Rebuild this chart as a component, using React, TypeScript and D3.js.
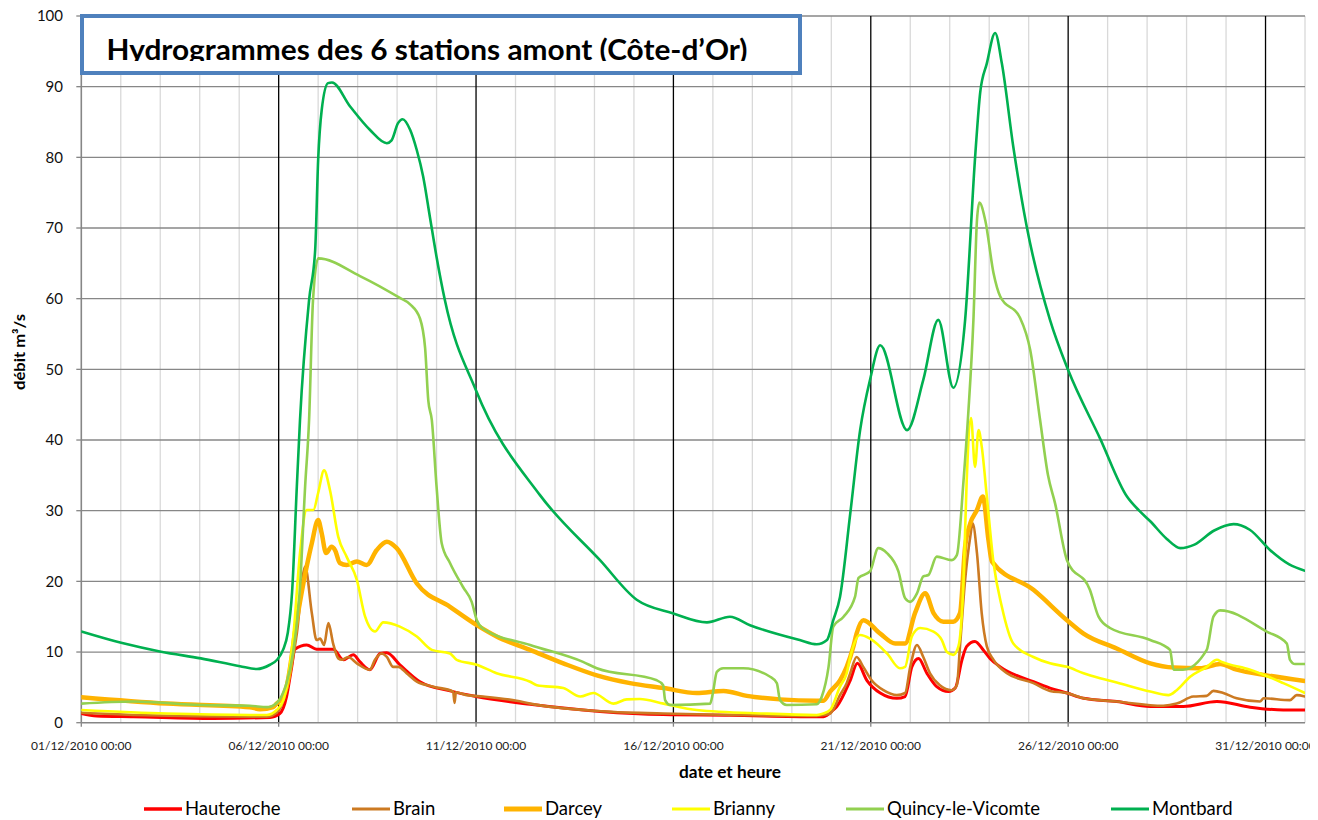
import React from "react";
import * as d3 from "d3";

// time in days since 01/12/2010 00:00, discharge in m3/s
const hauteroche: [number, number][] = [
  [0, 1.3], [0.39, 0.95], [1.32, 0.85], [3.34, 0.6], [4.78, 0.75], [5.03, 1.3], [5.2, 3.7], [5.33, 7.9], [5.41, 10.4],
  [5.71, 11.0], [5.96, 10.4], [6.38, 10.4], [6.64, 8.9], [6.89, 9.6], [7.06, 8.6], [7.31, 7.5], [7.57, 9.8], [7.74, 9.9],
  [8.07, 8.2], [8.58, 5.8], [9.34, 4.5], [10.0, 3.7], [11.37, 2.6], [13.14, 1.6], [14.74, 1.15], [16.43, 1.05],
  [18.63, 0.85], [18.8, 0.85], [19.05, 1.8], [19.14, 2.3], [19.48, 6.0], [19.66, 8.4], [19.9, 6.0], [20.24, 4.2],
  [20.66, 3.45], [20.87, 3.7], [21.04, 7.9], [21.21, 9.1], [21.42, 7.0], [21.67, 5.1], [21.97, 4.4], [22.14, 4.9],
  [22.31, 8.9], [22.43, 10.8], [22.64, 11.5], [22.85, 10.3], [23.02, 9.1], [23.28, 7.9], [24.12, 5.8], [24.54, 4.9],
  [24.97, 4.2], [25.39, 3.45], [26.23, 3.0], [27.08, 2.3], [27.92, 2.3], [28.77, 3.0], [29.61, 2.2], [30.45, 1.8], [31, 1.8],
];

const brain: [number, number][] = [
  [0, 1.4], [1.31, 1.1], [4.7, 0.85], [4.95, 1.4], [5.2, 4.6], [5.46, 12.6], [5.67, 22.1], [5.84, 15.5], [5.96, 11.7],
  [6.05, 11.9], [6.15, 11.0], [6.26, 14.1], [6.38, 11.2], [6.51, 9.1], [6.6, 8.9], [6.76, 9.3], [6.98, 8.4], [7.31, 7.5],
  [7.44, 8.9], [7.61, 9.8], [7.74, 9.3], [7.9, 7.9], [8.03, 7.9], [8.24, 7.0], [8.5, 5.8], [8.92, 5.1], [9.42, 4.4],
  [9.455, 2.8], [9.49, 4.3], [9.76, 3.9], [10.18, 3.7], [11.03, 3.1], [11.37, 2.7], [13.06, 1.65], [14.75, 1.3],
  [16.43, 1.1], [18.63, 0.95], [18.8, 1.1], [18.97, 1.3], [19.22, 3.9], [19.39, 5.6], [19.48, 7.0], [19.64, 9.3],
  [19.81, 7.9], [20.02, 6.0], [20.32, 4.6], [20.66, 3.9], [20.87, 4.2], [21.0, 7.9], [21.17, 11.0], [21.33, 9.3],
  [21.5, 7.0], [21.75, 5.3], [22.05, 4.6], [22.18, 5.3], [22.26, 10.8], [22.39, 20.2], [22.52, 26.3], [22.58, 28.2],
  [22.69, 24.0], [22.81, 15.5], [22.94, 10.8], [23.11, 8.9], [23.45, 7.0], [24.12, 5.6], [24.54, 4.5], [24.97, 4.2],
  [25.39, 3.45], [26.23, 3.0], [27.41, 2.4], [27.75, 2.7], [28.17, 3.7], [28.51, 3.8], [28.68, 4.5], [28.93, 4.2],
  [29.27, 3.45], [29.86, 3.0], [29.95, 3.45], [30.62, 3.2], [30.79, 3.9], [31, 3.7],
];

const darcey: [number, number][] = [
  [0, 3.6], [2.16, 2.7], [4.27, 2.2], [4.53, 1.9], [4.86, 2.2], [4.95, 2.7], [5.11, 3.7], [5.2, 5.1], [5.46, 14.5],
  [5.71, 22.1], [5.84, 25.4], [6.0, 28.7], [6.09, 26.8], [6.2, 24.0], [6.34, 24.9], [6.43, 24.4], [6.55, 22.6],
  [6.72, 22.3], [6.98, 22.8], [7.23, 22.3], [7.48, 24.4], [7.74, 25.6], [7.99, 24.7], [8.5, 19.7], [9.34, 16.4],
  [10.02, 13.8], [10.52, 12.2], [11.37, 10.3], [12.21, 8.4], [13.06, 6.7], [13.9, 5.6], [14.75, 4.9], [15.59, 4.2],
  [16.27, 4.5], [16.86, 3.8], [17.7, 3.3], [18.63, 3.1], [18.8, 3.1], [18.97, 4.4], [19.22, 6.0], [19.39, 7.9],
  [19.56, 10.8], [19.64, 12.6], [19.81, 14.5], [20.24, 12.6], [20.62, 11.2], [20.87, 11.2], [21.12, 15.5],
  [21.38, 18.3], [21.59, 15.5], [21.84, 14.3], [22.09, 14.3], [22.26, 15.5], [22.39, 24.9], [22.52, 28.2],
  [22.69, 30.1], [22.84, 32.0], [22.98, 25.9], [23.07, 22.8], [24.12, 18.8], [24.97, 14.5], [25.39, 12.6],
  [26.23, 10.5], [27.08, 8.4], [27.67, 7.8], [28.34, 7.7], [28.85, 8.3], [29.27, 7.5], [30.03, 6.7], [31, 5.9],
];

const brianny: [number, number][] = [
  [0, 1.8], [2.16, 1.3], [4.27, 1.1], [4.7, 1.1], [4.95, 1.8], [5.12, 3.2], [5.2, 5.1], [5.37, 12.2], [5.54, 24.0],
  [5.71, 30.1], [5.88, 30.1], [6.0, 32.5], [6.15, 35.7], [6.3, 32.9], [6.51, 26.3], [6.72, 23.5], [6.98, 20.2],
  [7.19, 15.0], [7.44, 12.9], [7.65, 14.2], [8.07, 13.6], [8.5, 12.2], [8.88, 10.3], [9.34, 9.8], [9.51, 8.9],
  [10.02, 8.2], [10.52, 7.0], [11.37, 5.8], [11.54, 5.3], [12.21, 4.9], [12.64, 3.7], [12.97, 4.2], [13.48, 2.7],
  [13.82, 3.3], [14.15, 3.35], [14.75, 2.7], [15.59, 1.8], [17.28, 1.3], [18.63, 1.1], [18.8, 1.3], [18.97, 1.8],
  [19.22, 5.1], [19.39, 7.0], [19.48, 9.3], [19.73, 12.4], [19.98, 11.9], [20.41, 9.8], [20.74, 7.7], [20.87, 7.9],
  [21.04, 12.2], [21.25, 13.4], [21.59, 12.9], [21.8, 11.7], [21.93, 10.0], [22.09, 9.6], [22.22, 10.8], [22.35, 20.2],
  [22.43, 34.3], [22.54, 43.1], [22.64, 36.2], [22.73, 41.4], [22.81, 39.1], [22.94, 32.0], [23.11, 22.6],
  [23.32, 16.4], [23.61, 11.2], [24.12, 9.3], [24.54, 8.4], [24.97, 7.9], [25.39, 7.0], [25.81, 6.3], [26.23, 5.7],
  [27.08, 4.4], [27.54, 3.9], [27.75, 4.6], [28.09, 6.5], [28.51, 7.9], [28.77, 8.9], [28.89, 8.6], [29.61, 7.5],
  [30.45, 5.6], [31, 4.2],
];

const quincy: [number, number][] = [
  [0, 2.7], [1.31, 3.0], [3.01, 2.5], [4.27, 2.4], [4.7, 2.2], [4.95, 2.8], [5.11, 4.2], [5.2, 5.6], [5.36, 9.8],
  [5.54, 19.2], [5.67, 33.4], [5.77, 42.8], [5.87, 59.8], [6.0, 65.7], [7.06, 63.2], [8.07, 60.1], [8.33, 59.2],
  [8.58, 57.2], [8.71, 53.0], [8.79, 45.6], [8.88, 42.8], [9.0, 33.4], [9.13, 25.4], [9.34, 22.6], [9.67, 19.2],
  [9.89, 17.1], [10.02, 14.5], [10.18, 13.3], [11.37, 11.0], [12.71, 8.6], [13.06, 7.7], [14.58, 6.0], [14.74, 5.3],
  [14.79, 3.2], [14.92, 2.5], [15.93, 2.7], [16.0, 4.2], [16.1, 7.2], [16.26, 7.7], [16.77, 7.7], [17.45, 6.5],
  [17.62, 5.6], [17.7, 3.2], [17.87, 2.5], [18.63, 2.6], [18.76, 3.7], [18.93, 7.9], [19.05, 13.6], [19.31, 15.0],
  [19.6, 17.8], [19.69, 20.5], [19.98, 21.4], [20.19, 24.7], [20.41, 24.0], [20.7, 21.4], [20.87, 17.6], [21.0, 17.1],
  [21.17, 18.3], [21.33, 20.7], [21.46, 20.9], [21.67, 23.5], [22.05, 23.0], [22.18, 23.7], [22.35, 34.3],
  [22.47, 43.8], [22.6, 57.0], [22.69, 71.1], [22.75, 73.6], [22.9, 71.1], [23.11, 63.6], [23.28, 60.3],
  [23.78, 57.3], [24.04, 52.7], [24.29, 42.8], [24.49, 35.0], [24.67, 31.0], [24.97, 23.0], [25.55, 18.8],
  [25.77, 15.0], [26.06, 13.4], [27.08, 11.7], [27.58, 10.3], [27.67, 7.5], [27.91, 7.5], [28.51, 10.3],
  [28.68, 15.0], [28.85, 15.9], [30.03, 12.9], [30.54, 11.2], [30.62, 8.9], [30.75, 8.3], [31, 8.3],
];

const montbard: [number, number][] = [
  [0, 12.9], [1.01, 11.3], [2.02, 10.05], [3.03, 9.1], [4.02, 8.0], [4.45, 7.6], [4.78, 8.2], [4.96, 8.9],
  [5.11, 10.3], [5.23, 12.7], [5.34, 18.5], [5.46, 33.4], [5.54, 42.8], [5.77, 59.8], [5.925, 66.9], [6.0, 79.6],
  [6.09, 86.7], [6.25, 90.5], [6.35, 90.6], [6.81, 87.2], [7.31, 83.9], [7.74, 82.0], [7.86, 82.4], [8.02, 84.8],
  [8.14, 85.4], [8.33, 83.9], [8.5, 81.0], [8.66, 77.3], [8.83, 71.6], [9.0, 65.9], [9.21, 59.8], [10.0, 47.0],
  [11.62, 32.2], [13.14, 23.0], [14.07, 17.4], [14.98, 15.5], [15.85, 14.2], [16.43, 15.0], [16.94, 13.8],
  [18.2, 11.7], [18.63, 11.1], [18.89, 11.7], [19.05, 14.5], [19.22, 17.8], [19.48, 29.6], [19.73, 41.4],
  [19.98, 48.5], [20.24, 53.4], [20.92, 41.4], [21.33, 48.5], [21.71, 57.0], [22.09, 47.4], [22.39, 57.0],
  [22.65, 80.6], [22.77, 89.1], [22.94, 93.3], [23.15, 97.6], [23.32, 93.3], [23.61, 81.5], [23.95, 70.2],
  [24.54, 57.0], [25.0, 49.9], [25.81, 40.2], [26.49, 32.0], [26.8, 30.0], [27.08, 28.5],
  [27.5, 26.0], [27.84, 24.7], [28.2, 25.2], [28.7, 27.2], [29.19, 28.1], [29.6, 27.3], [30.12, 24.4], [30.6, 22.4],
  [31, 21.5],
];

const seriesNames = ["Hauteroche", "Brain", "Darcey", "Brianny", "Quincy-le-Vicomte", "Montbard"];
const seriesData = [hauteroche, brain, darcey, brianny, quincy, montbard];
const seriesColors = ["#FF0000", "#CC7A22", "#FFB300", "#FFFF00", "#92D050", "#00B050"];
const seriesWidths = [3, 2.6, 4.5, 2.6, 2.6, 2.6];

const yTicks = [0, 10, 20, 30, 40, 50, 60, 70, 80, 90, 100];
const xTickDays = [0, 5, 10, 15, 20, 25, 30];
const xTickLabels = [
  "01/12/2010 00:00", "06/12/2010 00:00", "11/12/2010 00:00", "16/12/2010 00:00",
  "21/12/2010 00:00", "26/12/2010 00:00", "31/12/2010 00:00",
];
const titleText = "Hydrogrammes des 6 stations amont (Côte-d’Or)";

const legendX = [144, 352, 504, 672, 846, 1111];

export default function App() {
  const W = 1318, H = 820;
  const left = 81.3, right = 1305, top = 16, bottom = 722.7;
  const x = d3.scaleLinear().domain([0, 31]).range([left, right]);
  const y = d3.scaleLinear().domain([0, 100]).range([bottom, top]);
  const line = d3.line<[number, number]>().x((d) => x(d[0])).y((d) => y(d[1])).curve(d3.curveMonotoneX);
  const days = d3.range(1, 32);
  const font = "Lato, 'Open Sans', sans-serif";

  return (
    <svg width={W} height={H} style={{ position: "absolute", left: 0, top: 0, background: "#fff" }}>
      <defs>
        <clipPath id="plotClip">
          <rect x={left} y={top - 10} width={right - left} height={bottom - top + 10} />
        </clipPath>
        <clipPath id="titleClip">
          <rect x={84} y={18} width={714} height={43} />
        </clipPath>
        <clipPath id="pageClip">
          <rect x={0} y={0} width={1310} height={H} />
        </clipPath>
      </defs>
      <rect x={0} y={0} width={W} height={H} fill="#fff" />
      {days.filter((d) => d % 5 !== 0 || d === 31).map((d) => (
        <line key={"mv" + d} x1={x(d)} x2={x(d)} y1={top} y2={bottom} stroke="#D9D9D9" strokeWidth={1.3} />
      ))}
      {yTicks.filter((v) => v > 0).map((v) => (
        <line key={"hg" + v} x1={left} x2={right} y1={y(v)} y2={y(v)} stroke="#878787" strokeWidth={1.3} />
      ))}
      {xTickDays.filter((d) => d > 0).map((d) => (
        <line key={"Mv" + d} x1={x(d)} x2={x(d)} y1={top} y2={bottom} stroke="#000" strokeWidth={1.3} />
      ))}
      <line x1={left} x2={left} y1={top} y2={bottom} stroke="#868686" strokeWidth={1.6} />
      <line x1={left} x2={right} y1={bottom} y2={bottom} stroke="#868686" strokeWidth={1.6} />
      {yTicks.map((v) => (
        <g key={"yt" + v}>
          <line x1={left - 5} x2={left} y1={y(v)} y2={y(v)} stroke="#868686" strokeWidth={1.3} />
          <text x={63} y={y(v)} dy="0.36em" textAnchor="end" fontFamily={font} fontSize={15} fill="#111">
            {v}
          </text>
        </g>
      ))}
      <g clipPath="url(#pageClip)">
        {xTickDays.map((d, i) => (
          <g key={"xt" + d}>
            <line x1={x(d)} x2={x(d)} y1={bottom} y2={bottom + 4} stroke="#868686" strokeWidth={1.3} />
            <text x={x(d)} y={750} textAnchor="middle" fontFamily={font} fontSize={12} fill="#222">
              {xTickLabels[i]}
            </text>
          </g>
        ))}
      </g>
      <g clipPath="url(#plotClip)" fill="none" strokeLinejoin="round" strokeLinecap="round">
        {seriesData.map((s, i) => (
          <path key={seriesNames[i]} d={line(s) || ""} stroke={seriesColors[i]} strokeWidth={seriesWidths[i]} />
        ))}
      </g>
      <rect x={82} y={16} width={718} height={57} fill="#fff" stroke="#4F81BD" strokeWidth={4} />
      <g clipPath="url(#titleClip)">
        <text x={106.5} y={60} fontFamily={font} fontWeight={700} fontSize={29} fill="#000"
          textLength={641} lengthAdjust="spacingAndGlyphs">
          {titleText}
        </text>
      </g>
      <text x={730} y={778} textAnchor="middle" fontFamily={font} fontWeight={700} fontSize={16.5} fill="#000"
        textLength={102} lengthAdjust="spacingAndGlyphs">
        date et heure
      </text>
      <text transform="translate(25,352) rotate(-90)" textAnchor="middle" fontFamily={font} fontWeight={700}
        fontSize={15} fill="#000" textLength={76} lengthAdjust="spacingAndGlyphs">
        débit m³/s
      </text>
      {seriesNames.map((n, i) => (
        <g key={"lg" + n}>
          <line x1={legendX[i]} x2={legendX[i] + 38} y1={809} y2={809} stroke={seriesColors[i]}
            strokeWidth={seriesWidths[i] + 0.4} />
          <text x={legendX[i] + 41} y={809} dy="0.35em" fontFamily={font} fontSize={18.5} fill="#000">
            {n}
          </text>
        </g>
      ))}
    </svg>
  );
}
